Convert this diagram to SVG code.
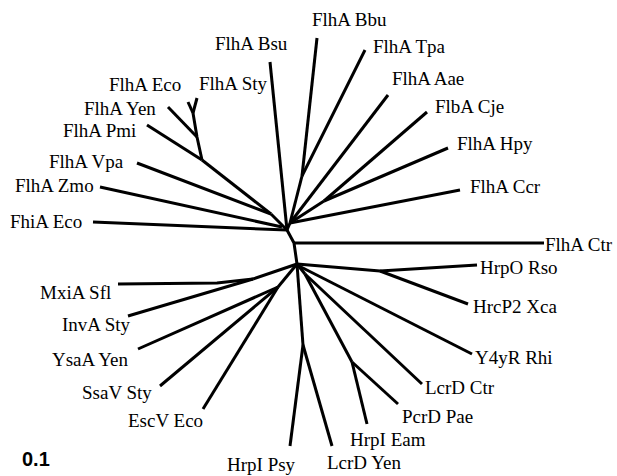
<svg xmlns="http://www.w3.org/2000/svg" width="617" height="476" viewBox="0 0 617 476">
<style>
.t{font-family:"Liberation Serif","Times New Roman",serif;font-size:19px;fill:#000}
.s{font-family:"Liberation Sans",Arial,sans-serif;font-size:20px;font-weight:bold;fill:#000}
.e{stroke:#000;stroke-width:3;fill:none;stroke-linecap:butt;stroke-linejoin:round}
</style>
<rect width="617" height="476" fill="#fff"/>
<g id="connectors" class="e">
<!-- backbone -->
<polyline points="287,230 294,243 297,264"/>
<line x1="294" y1="243" x2="544" y2="243"/>
<!-- upper right cluster -->
<line x1="290" y1="223" x2="287" y2="230"/>
<line x1="302" y1="176" x2="290" y2="223"/>
<line x1="302" y1="176" x2="317" y2="38"/>
<line x1="302" y1="176" x2="365" y2="50"/>
<line x1="290" y1="223" x2="388" y2="95"/>
<line x1="290" y1="223" x2="324" y2="201"/>
<line x1="324" y1="201" x2="427" y2="112"/>
<line x1="324" y1="201" x2="448" y2="148"/>
<line x1="290" y1="223" x2="460" y2="190"/>
<!-- upper left cluster -->
<line x1="287" y1="230" x2="270" y2="62"/>
<line x1="287" y1="230" x2="93" y2="222"/>
<line x1="282" y1="227" x2="100" y2="187"/>
<line x1="287" y1="230" x2="271" y2="214"/>
<line x1="271" y1="214" x2="137" y2="163"/>
<line x1="271" y1="214" x2="202" y2="160"/>
<line x1="202" y1="160" x2="147" y2="125"/>
<polyline points="202,160 197,137 193,113"/>
<line x1="197" y1="137" x2="168" y2="107"/>
<line x1="193" y1="113" x2="188" y2="102"/>
<line x1="193" y1="113" x2="197" y2="98"/>
<!-- lower left cluster -->
<line x1="297" y1="264" x2="253" y2="279"/>
<polyline points="253,279 217,283 118,284"/>
<line x1="253" y1="279" x2="128" y2="316"/>
<line x1="297" y1="264" x2="278" y2="287"/>
<line x1="278" y1="287" x2="138" y2="349"/>
<line x1="278" y1="287" x2="160" y2="386"/>
<line x1="278" y1="287" x2="203" y2="409"/>
<!-- lower vertical -->
<line x1="297" y1="264" x2="303" y2="345"/>
<line x1="303" y1="345" x2="290" y2="446"/>
<line x1="303" y1="345" x2="332" y2="446"/>
<!-- lower right cluster -->
<line x1="297" y1="264" x2="380" y2="271"/>
<line x1="380" y1="271" x2="477" y2="265"/>
<line x1="380" y1="271" x2="468" y2="304"/>
<line x1="299" y1="266" x2="472" y2="354"/>
<line x1="297" y1="264" x2="305" y2="274"/>
<line x1="305" y1="274" x2="422" y2="384"/>
<line x1="305" y1="274" x2="352" y2="362"/>
<line x1="352" y1="362" x2="398" y2="404"/>
<line x1="352" y1="362" x2="367" y2="424"/>
</g>
<g id="n-flha-bbu"><text class="t" x="312" y="26">FlhA Bbu</text></g>
<g id="n-flha-bsu"><text class="t" x="215" y="50">FlhA Bsu</text></g>
<g id="n-flha-tpa"><text class="t" x="373" y="53">FlhA Tpa</text></g>
<g id="n-flha-aae"><text class="t" x="392" y="85">FlhA Aae</text></g>
<g id="n-flha-eco"><text class="t" x="109" y="91">FlhA Eco</text></g>
<g id="n-flha-sty"><text class="t" x="199" y="90">FlhA Sty</text></g>
<g id="n-flba-cje"><text class="t" x="435" y="113">FlbA Cje</text></g>
<g id="n-flha-yen"><text class="t" x="84" y="115">FlhA Yen</text></g>
<g id="n-flha-pmi"><text class="t" x="63" y="137">FlhA Pmi</text></g>
<g id="n-flha-hpy"><text class="t" x="457" y="150">FlhA Hpy</text></g>
<g id="n-flha-vpa"><text class="t" x="49" y="168">FlhA Vpa</text></g>
<g id="n-flha-zmo"><text class="t" x="15" y="192">FlhA Zmo</text></g>
<g id="n-flha-ccr"><text class="t" x="470" y="193">FlhA Ccr</text></g>
<g id="n-fhia-eco"><text class="t" x="10" y="228">FhiA Eco</text></g>
<g id="n-flha-ctr"><text class="t" x="545" y="251">FlhA Ctr</text></g>
<g id="n-hrpo-rso"><text class="t" x="480" y="274">HrpO Rso</text></g>
<g id="n-mxia-sfl"><text class="t" x="40" y="299">MxiA Sfl</text></g>
<g id="n-hrcp2-xca"><text class="t" x="473" y="313">HrcP2 Xca</text></g>
<g id="n-inva-sty"><text class="t" x="62" y="331">InvA Sty</text></g>
<g id="n-y4yr-rhi"><text class="t" x="475" y="364">Y4yR Rhi</text></g>
<g id="n-ysaa-yen"><text class="t" x="52" y="366">YsaA Yen</text></g>
<g id="n-lcrd-ctr"><text class="t" x="425" y="394">LcrD Ctr</text></g>
<g id="n-ssav-sty"><text class="t" x="82" y="399">SsaV Sty</text></g>
<g id="n-pcrd-pae"><text class="t" x="402" y="423">PcrD Pae</text></g>
<g id="n-escv-eco"><text class="t" x="128" y="427">EscV Eco</text></g>
<g id="n-hrpi-eam"><text class="t" x="350" y="446">HrpI Eam</text></g>
<g id="n-hrpi-psy"><text class="t" x="227" y="471">HrpI Psy</text></g>
<g id="n-lcrd-yen"><text class="t" x="327" y="469">LcrD Yen</text></g>
<g id="scale"><text class="s" x="22" y="466">0.1</text></g>
</svg>
